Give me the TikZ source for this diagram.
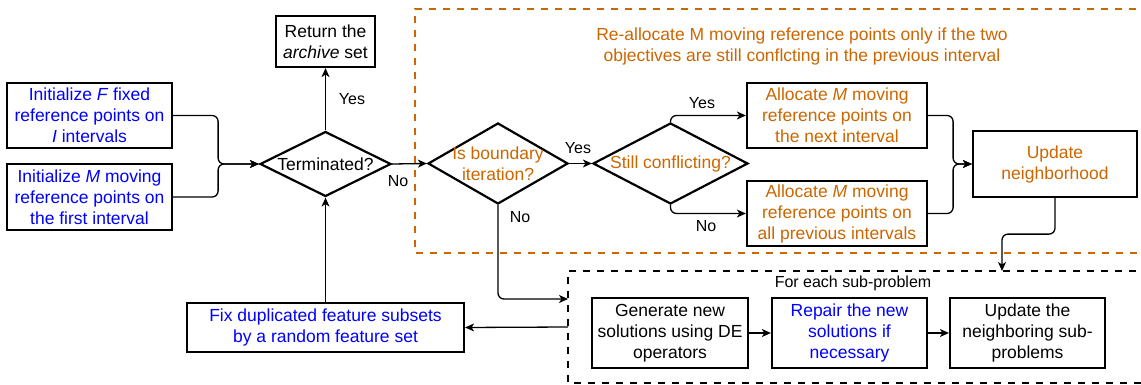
\documentclass[tikz,border=0pt]{standalone}
\usepackage{fontspec}
\setmainfont{Liberation Sans}
\usetikzlibrary{shapes.geometric,arrows.meta}
\definecolor{orng}{HTML}{CC6600}
\definecolor{blu}{HTML}{0000FF}
\newcommand{\fsmain}{\fontsize{17.5}{21}\selectfont}
\newcommand{\fslab}{\fontsize{16}{19}\selectfont}
\begin{document}
\begin{tikzpicture}[x=1pt,y=-1pt,
  box/.style={draw, line width=2.2pt, align=center, inner sep=0pt, font=\fsmain},
  dia/.style={draw, diamond, line width=2.2pt, inner sep=0pt},
  dtext/.style={align=center, inner sep=0pt, font=\fsmain},
  lab/.style={inner sep=0pt, font=\fslab},
  conn/.style={line width=1.3pt, rounded corners=6pt, -{Stealth[length=9pt,width=8pt,inset=2.5pt]}},
  line/.style={line width=1.3pt, rounded corners=6pt}
]
\useasboundingbox (0,0) rectangle (1141,385);

% group frames
\draw[orng, line width=2pt, dash pattern=on 7pt off 7pt] (1150,9) -- (415,9) -- (415,253) -- (1150,253);
\draw[black, line width=2pt, dash pattern=on 7pt off 7pt] (1150,271) -- (568,271) -- (568,383) -- (1150,383);

\node[orng, align=center, inner sep=0pt, font=\fsmain] (title) at (802,46.5) {Re-allocate M moving reference points only if the two\\objectives are still conflcting in the previous interval};
\node[lab] (foreach) at (853,283) {For each sub-problem};

% boxes
\node[box, minimum width=99pt, minimum height=51pt] (ret) at (325.5,41.5) {Return the\\\textit{archive} set};
\node[box, blu, draw=black, minimum width=165pt, minimum height=65pt] (initF) at (89.5,115.5) {Initialize \textit{F} fixed\\reference points on\\\textit{I} intervals};
\node[box, blu, draw=black, minimum width=165pt, minimum height=66pt] (initM) at (89.5,197) {Initialize \textit{M} moving\\reference points on\\the first interval};

\node[dia, minimum width=131pt, minimum height=65pt] (term) at (325.5,164) {};
\node[dtext] (termtxt) at (term.center) {Terminated?};

\node[dia, minimum width=140pt, minimum height=81pt] (isb) at (498,163.5) {};
\node[dtext, orng] (isbtxt) at (isb.center) {Is boundary\\iteration?};

\node[dia, minimum width=155pt, minimum height=81pt] (still) at (670.5,163.5) {};
\node[dtext, orng] (stilltxt) at (still.center) {Still conflicting?};

\node[box, orng, draw=black, minimum width=180pt, minimum height=65pt] (alloc1) at (837,115.5) {Allocate \textit{M} moving\\reference points on\\the next interval};
\node[box, orng, draw=black, minimum width=180pt, minimum height=65pt] (alloc2) at (837,213.5) {Allocate \textit{M} moving\\reference points on\\all previous intervals};
\node[box, orng, draw=black, minimum width=164pt, minimum height=66pt] (upd) at (1055,164) {Update\\neighborhood};

\node[box, blu, draw=black, minimum width=277pt, minimum height=49pt] (fix) at (325.5,327.5) {Fix duplicated feature subsets\\by a random feature set};

\node[box, minimum width=156pt, minimum height=70pt] (gen) at (670,333) {Generate new\\solutions using DE\\operators};
\node[box, blu, draw=black, minimum width=155pt, minimum height=70pt] (rep) at (849.5,333) {Repair the new\\solutions if\\necessary};
\node[box, minimum width=155pt, minimum height=70pt] (updn) at (1027.5,333) {Update the\\neighboring sub-\\problems};

\coordinate (looptop) at (1002,271);
\coordinate (loopin) at (568,299);
\coordinate (loopout) at (568,327);

% connectors
\draw[conn] (initF.east) -- ++(45,0) |- (term.west);
\draw[conn] (initM.east) -- ++(45,0) |- (term.west);
\draw[conn] (term.north) -- (ret.south);
\draw[conn] (term.east) -- (isb.west);
\draw[conn] (isb.east) -- (still.west);
\draw[conn] (still.north) |- (alloc1.west);
\draw[conn] (still.south) |- (alloc2.west);
\draw[conn] (alloc1.east) -- ++(25,0) |- (upd.west);
\draw[conn] (alloc2.east) -- ++(25,0) |- (upd.west);
\draw[conn] (upd.south) -- ++(0,36) -| (looptop);
\draw[conn] (isb.south) |- (loopin);
\draw[conn] (loopout) -- (fix.east);
\draw[conn] (fix.north) -- (term.south);
\draw[conn] (gen.east) -- (rep.west);
\draw[conn] (rep.east) -- (updn.west);

% labels
\node[lab] (yes1) at (352,99) {Yes};
\node[lab] (no1) at (398,181) {No};
\node[lab] (yes2) at (578,148) {Yes};
\node[lab] (no2) at (520,217) {No};
\node[lab] (yes3) at (702,103) {Yes};
\node[lab] (no3) at (706,226) {No};
\end{tikzpicture}
\end{document}
